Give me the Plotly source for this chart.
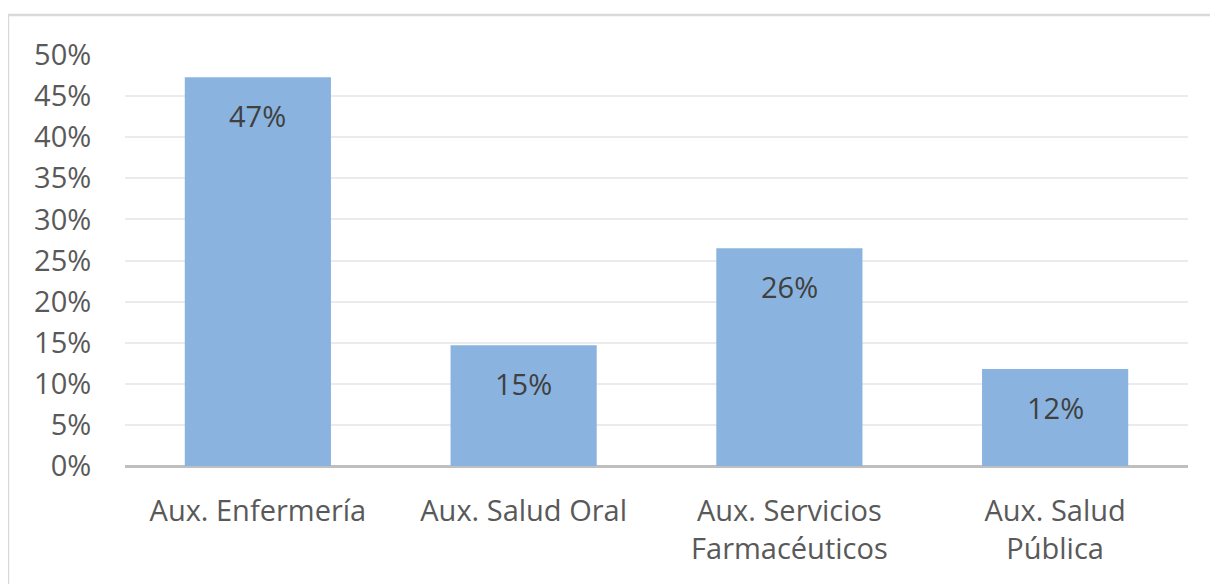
import plotly.graph_objects as go

categories = ["Aux. Enfermería", "Aux. Salud Oral", "Aux. Servicios<br>Farmacéuticos", "Aux. Salud<br>Pública"]
values = [0.473, 0.147, 0.265, 0.118]
labels = ["47%", "15%", "26%", "12%"]
y_ticks = [0, 0.05, 0.10, 0.15, 0.20, 0.25, 0.30, 0.35, 0.40, 0.45, 0.50]
y_tick_text = ["0%", "5%", "10%", "15%", "20%", "25%", "30%", "35%", "40%", "45%", "50%"]

FONT = "Open Sans"
TXT = "#595959"
FS = 29

fig = go.Figure()
fig.add_trace(go.Bar(
    x=categories, y=values,
    marker=dict(color="#8ab4df", line=dict(width=0)),
    hoverinfo="skip",
))

for c, v, t in zip(categories, values, labels):
    fig.add_annotation(x=c, y=v, text=t, showarrow=False, yanchor="middle",
                       yshift=-38, font=dict(family=FONT, size=FS, color="#404040"))

fig.add_shape(type="rect", xref="paper", yref="paper",
              x0=-0.1101, x1=1.3, y0=-0.6, y1=1.0973,
              line=dict(color="#d9d9d9", width=2.5), fillcolor="rgba(0,0,0,0)", layer="below")

fig.update_layout(
    width=1218, height=584,
    margin=dict(l=117, r=38, t=47, b=126),
    paper_bgcolor="white", plot_bgcolor="white",
    bargap=0.45, showlegend=False,
    font=dict(family=FONT, size=FS, color=TXT),
)
fig.update_xaxes(
    showgrid=False, showline=False, zeroline=False,
    ticks="outside", ticklen=19, tickcolor="rgba(0,0,0,0)",
    tickfont=dict(family=FONT, size=FS, color=TXT),
)
fig.update_yaxes(
    range=[0, 0.5], tickvals=y_ticks, ticktext=y_tick_text,
    showgrid=True, gridcolor="#ebebeb", gridwidth=2,
    zeroline=True, zerolinecolor="#bfbfbf", zerolinewidth=3,
    showline=False, ticks="outside", ticklen=27, tickcolor="rgba(0,0,0,0)",
    tickfont=dict(family=FONT, size=FS, color=TXT),
)

fig.write_html("out.html")
